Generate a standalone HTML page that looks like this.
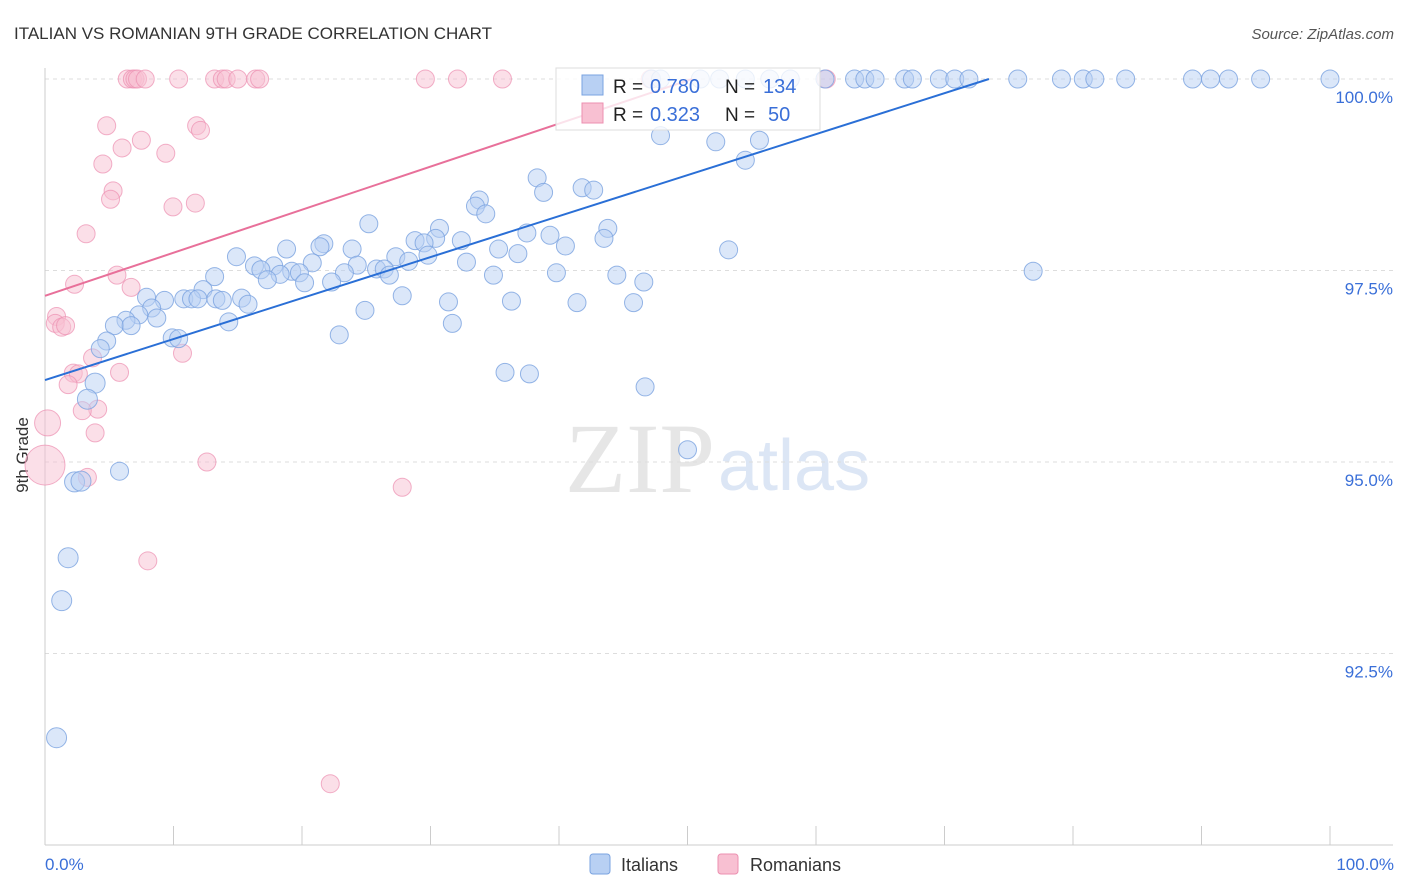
<!DOCTYPE html>
<html><head><meta charset="utf-8"><style>
body{margin:0;background:#fff;font-family:"Liberation Sans",sans-serif;}
svg{display:block}
</style></head><body>
<svg id="chart" width="1406" height="892">
<text x="14" y="39" font-size="17" fill="#333">ITALIAN VS ROMANIAN 9TH GRADE CORRELATION CHART</text>
<text x="1394" y="39" font-size="15" fill="#555" font-style="italic" text-anchor="end">Source: ZipAtlas.com</text>
<text x="28" y="455" font-size="17" fill="#333" transform="rotate(-90 28 455)" text-anchor="middle">9th Grade</text>
<text x="715" y="492" font-size="100" fill="#e6e6e6" text-anchor="end" font-family="Liberation Serif, serif">ZIP</text>
<text x="718" y="490" font-size="72" fill="#dce6f5">atlas</text>
<g id="grid"></g><g id="pts"></g><g id="lines"></g>
<g>
<rect x="556" y="68" width="264" height="62" fill="#fff" fill-opacity="0.8" stroke="#ddd"/>
<rect x="582" y="75" width="21" height="20" fill="#b8d0f3" stroke="#7aa3e0"/>
<rect x="582" y="103" width="21" height="20" fill="#f8c0d2" stroke="#ec8fb0"/>
<text x="613" y="93" font-size="19" fill="#222">R =</text>
<text x="650" y="93" font-size="20" fill="#3a6fd8">0.780</text>
<text x="725" y="93" font-size="19" fill="#222">N =</text>
<text x="763" y="93" font-size="20" fill="#3a6fd8">134</text>
<text x="613" y="121" font-size="19" fill="#222">R =</text>
<text x="650" y="121" font-size="20" fill="#3a6fd8">0.323</text>
<text x="725" y="121" font-size="19" fill="#222">N =</text>
<text x="768" y="121" font-size="20" fill="#3a6fd8">50</text>
</g>
<g>
<rect x="590" y="854" width="20" height="20" rx="3" fill="#b8d0f3" stroke="#7aa3e0"/>
<text x="621" y="871" font-size="18" fill="#333">Italians</text>
<rect x="718" y="854" width="20" height="20" rx="3" fill="#f8c0d2" stroke="#ec8fb0"/>
<text x="750" y="871" font-size="18" fill="#333">Romanians</text>
</g>
<text x="45" y="870" font-size="17" fill="#3a6fd8">0.0%</text>
<text x="1394" y="870" font-size="17" fill="#3a6fd8" text-anchor="end">100.0%</text>
</svg>
<script>
const yTicks=[100,97.5,95,92.5];
const yTickLabels=["100.0%","97.5%","95.0%","92.5%"];
const xTicks=[0,10,20,30,40,50,60,70,80,90,100];
const blueX=[47.2,47.9,51,52.5,54.5,56.4,58,60.7,63,63.8,64.6,66.9,67.5,69.6,70.8,71.9,75.7,79.1,80.8,81.7,84.1,89.3,90.7,92.1,94.6,100,
47.9,52.2,54.5,55.6,38.3,38.8,41.8,42.7,33.8,33.5,34.3,25.2,30.7,43.8,37.5,39.3,43.5,30.4,32.4,28.8,29.5,40.5,35.3,36.8,53.2,21.7,21.4,23.9,18.8,14.9,27.3,29.8,28.3,32.8,24.3,20.8,16.3,17.8,16.8,25.8,26.4,23.3,26.8,19.2,19.8,18.3,17.3,20.2,22.3,39.8,34.9,44.5,46.6,76.9,13.2,12.3,7.9,9.3,10.8,11.4,11.9,13.3,13.8,15.3,15.8,27.8,31.4,36.3,41.4,45.8,24.9,8.3,7.3,8.7,6.3,5.4,6.7,14.3,31.7,9.9,10.4,4.8,22.9,4.3,35.8,37.7,46.7,3.9,3.3,5.8,2.3,2.8,50,1.8,1.3,0.9];
const blueY=[100,100,100,100,100,100,100,100,100,100,100,100,100,100,100,100,100,100,100,100,100,100,100,100,100,100,
99.26,99.18,98.94,99.2,98.71,98.52,98.58,98.55,98.42,98.34,98.24,98.11,98.05,98.05,97.99,97.96,97.92,97.92,97.89,97.89,97.86,97.82,97.78,97.72,97.77,97.85,97.81,97.78,97.78,97.68,97.68,97.7,97.62,97.61,97.57,97.6,97.56,97.56,97.51,97.52,97.52,97.47,97.44,97.49,97.47,97.45,97.38,97.34,97.35,97.47,97.44,97.44,97.35,97.49,97.42,97.25,97.15,97.11,97.13,97.13,97.13,97.13,97.11,97.14,97.06,97.17,97.09,97.1,97.08,97.08,96.98,97.01,96.92,96.88,96.85,96.78,96.78,96.83,96.81,96.62,96.61,96.58,96.66,96.48,96.17,96.15,95.98,96.03,95.82,94.88,94.74,94.75,95.16,93.75,93.19,91.4];
const pinkX=[6.4,6.8,7,7.2,7.8,10.4,13.2,13.8,14.1,15,16.4,16.7,29.6,32.1,35.6,47.1,60.8,
4.8,11.8,12.1,7.5,6,9.4,4.5,5.3,5.1,11.7,9.96,3.2,5.6,2.3,6.7,0.9,0.8,1.3,1.6,10.7,3.7,5.8,2.2,2.6,1.8,4.1,2.9,3.9,0.2,0,12.6,3.3,27.8,8,22.2];
const pinkY=[100,100,100,100,100,100,100,100,100,100,100,100,100,100,100,100,100,
99.39,99.39,99.33,99.2,99.1,99.03,98.89,98.54,98.43,98.38,98.33,97.98,97.44,97.32,97.28,96.9,96.81,96.76,96.78,96.42,96.36,96.17,96.16,96.15,96.01,95.69,95.67,95.38,95.51,94.96,95.0,94.8,94.67,93.71,90.8];
const blueLine=[96.07,0.0535]; // intercept, slope
const pinkLine=[97.17,0.0562];
const X=v=>45+v*12.85, Y=v=>79+(100-v)*76.6;
const NS="http://www.w3.org/2000/svg";
function mk(t,a,p){const e=document.createElementNS(NS,t);for(const k in a)e.setAttribute(k,a[k]);p.appendChild(e);return e;}
const g=document.getElementById('grid');
yTicks.forEach((t,i)=>{
 const l=mk('line',{x1:45,x2:1393,y1:Y(t),y2:Y(t),stroke:'#ddd','stroke-dasharray':'4,4'},g);
 
 
 const tx=mk('text',{x:1393,y:Y(t)+24,'font-size':17,fill:'#3a6fd8','text-anchor':'end'},g);
 tx.textContent=yTickLabels[i];
 
 
});
xTicks.forEach(t=>{
 const l=mk('line',{x1:X(t),x2:X(t),y1:826,y2:845,stroke:'#ccc'},g);
 
 
});
const ya=mk('line',{x1:45,x2:45,y1:68,y2:845,stroke:'#ccc'},g);


const xa=mk('line',{x1:45,x2:1393,y1:845,y2:845,stroke:'#ccc'},g);


const P=document.getElementById('pts');
pinkX.forEach((x,i)=>{
 const r=x<0.1?20:(x<0.3?13:9);
 const c=mk('circle',{cx:X(x),cy:Y(pinkY[i]),r:r,fill:'#f8c0d2','fill-opacity':0.5,stroke:'#ec8fb0','stroke-opacity':0.7},P);
 
 
});
blueX.forEach((x,i)=>{
 const r=(x<4&&blueY[i]<96.2)?10:9;
 const c=mk('circle',{cx:X(x),cy:Y(blueY[i]),r:r,fill:'#b8d0f3','fill-opacity':0.5,stroke:'#7aa3e0','stroke-opacity':0.8},P);
 
 
});
const L=document.getElementById('lines');
const bx2=(100-blueLine[0])/blueLine[1];
const bl=mk('line',{x1:X(0),y1:Y(blueLine[0]),x2:X(bx2),y2:Y(100),stroke:'#2a6fd6','stroke-width':2},L);


const px2=(100-pinkLine[0])/pinkLine[1];
const pl=mk('line',{x1:X(0),y1:Y(pinkLine[0]),x2:X(px2),y2:Y(100),stroke:'#e8709a','stroke-width':2},L);


</script>
</body></html>
